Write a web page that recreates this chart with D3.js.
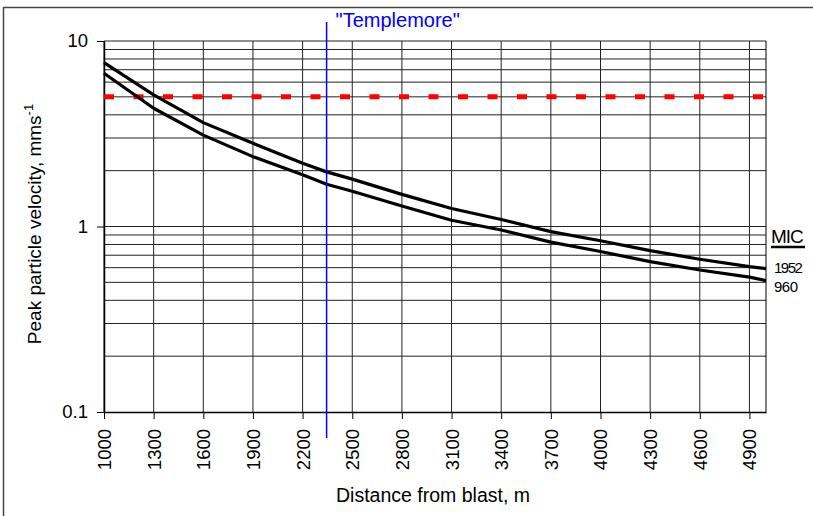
<!DOCTYPE html>
<html>
<head>
<meta charset="utf-8">
<script src="https://cdn.jsdelivr.net/npm/d3@7"></script>
<style>
  body { margin: 0; background: #fff; }
  text { font-family: "Liberation Sans", Arial, sans-serif; }
</style>
</head>
<body>
<svg id="canvas" width="813" height="516"></svg>
<script>
// distances (m) and PPV (mm/s)
let distances = [1000, 1300, 1600, 1900, 2200, 2345, 2500, 2800, 3100, 3400, 3700, 4000, 4300, 4600, 4900, 5000];
let mic1952 = [7.64, 5.12, 3.63, 2.81, 2.19, 1.97, 1.80, 1.49, 1.25, 1.09, 0.938, 0.838, 0.741, 0.666, 0.608, 0.593];
let mic960 = [6.70, 4.34, 3.11, 2.38, 1.90, 1.69, 1.55, 1.29, 1.08, 0.957, 0.824, 0.733, 0.647, 0.583, 0.533, 0.511];
let xTicks = [1000, 1300, 1600, 1900, 2200, 2500, 2800, 3100, 3400, 3700, 4000, 4300, 4600, 4900];
let yTicks = [0.1, 1, 10];
let yGrid = [0.2, 0.3, 0.4, 0.5, 0.6, 0.7, 0.8, 0.9, 1, 2, 3, 4, 5, 6, 7, 8, 9, 10];
let limitValue = 5;
let templemore = 2345;

let canvas = d3.select("#canvas");

let plotLeft = 104, plotRight = 766, plotTop = 41, plotBottom = 412;

let xScale = d3.scaleLinear().domain([1000, 5000]).range([plotLeft, plotRight]);
let yScale = d3.scaleLog().domain([0.1, 10]).range([plotBottom, plotTop]);

// frame (top and left edges only)
canvas.append('line').attr('x1', 3).attr('x2', 813).attr('y1', 7.5).attr('y2', 7.5)
    .attr('stroke', '#444').attr('stroke-width', 1.5);
canvas.append('line').attr('x1', 3.5).attr('x2', 3.5).attr('y1', 7).attr('y2', 516)
    .attr('stroke', '#444').attr('stroke-width', 1.5);

// gridlines
canvas.selectAll('.hgrid')
    .data(yGrid)
    .enter()
    .append('line')
    .attr('class', 'hgrid')
    .attr('x1', plotLeft).attr('x2', plotRight)
    .attr('y1', d => yScale(d)).attr('y2', d => yScale(d))
    .attr('stroke', '#222').attr('stroke-width', 1);

canvas.selectAll('.vgrid')
    .data(xTicks)
    .enter()
    .append('line')
    .attr('class', 'vgrid')
    .attr('x1', d => xScale(d)).attr('x2', d => xScale(d))
    .attr('y1', plotTop).attr('y2', plotBottom)
    .attr('stroke', '#222').attr('stroke-width', 1);

// right edge of plot
canvas.append('line')
    .attr('x1', xScale(5000)).attr('x2', xScale(5000))
    .attr('y1', plotTop).attr('y2', plotBottom)
    .attr('stroke', '#000').attr('stroke-width', 1);

// axes
let xAxis = d3.axisBottom(xScale).tickValues(xTicks).tickSize(7).tickSizeOuter(0).tickFormat(d3.format('d'));
let yAxis = d3.axisLeft(yScale).tickValues(yTicks).tickSize(7).tickSizeOuter(0).tickFormat(d => d);

let gx = canvas.append('g').attr('transform', 'translate(0,' + plotBottom + ')').call(xAxis);
gx.select('.domain').attr('stroke', '#000').attr('stroke-width', 1.5);
gx.selectAll('.tick line').attr('stroke', '#000');
gx.selectAll('.tick text')
    .attr('font-size', 18.5)
    .attr('fill', '#000')
    .attr('text-anchor', 'end')
    .attr('transform', 'rotate(-90)')
    .attr('x', -17)
    .attr('y', 0)
    .attr('dy', '0.35em');

let gy = canvas.append('g').attr('transform', 'translate(' + plotLeft + ',0)').call(yAxis);
gy.select('.domain').attr('stroke', '#000').attr('stroke-width', 1.5);
gy.selectAll('.tick line').attr('stroke', '#000');
gy.selectAll('.tick text')
    .attr('font-size', 18.5)
    .attr('fill', '#000')
    .attr('x', -16);

// red limit line
canvas.append('line')
    .attr('x1', plotLeft).attr('x2', plotRight)
    .attr('y1', yScale(limitValue)).attr('y2', yScale(limitValue))
    .attr('stroke', '#ff0000').attr('stroke-width', 5)
    .attr('stroke-dasharray', '10,19.5');

// curves
let line = d3.line()
    .x((d, i) => xScale(distances[i]))
    .y(d => yScale(d));

[mic1952, mic960].forEach(series => {
    canvas.append('path')
        .attr('d', line(series))
        .attr('fill', 'none')
        .attr('stroke', '#000')
        .attr('stroke-width', 3.2)
        .attr('stroke-linejoin', 'round');
});

// Templemore marker
canvas.append('line')
    .attr('x1', xScale(templemore)).attr('x2', xScale(templemore))
    .attr('y1', 22).attr('y2', 438)
    .attr('stroke', '#0000ff').attr('stroke-width', 1.5);
canvas.append('text')
    .attr('x', xScale(templemore) + 9).attr('y', 27)
    .attr('font-size', 20).attr('fill', '#0000ff')
    .text('"Templemore"');

// MIC labels
canvas.append('text')
    .attr('x', 771).attr('y', 243)
    .attr('font-size', 19).attr('fill', '#000')
    .attr('letter-spacing', -1)
    .text('MIC');
canvas.append('line')
    .attr('x1', 771).attr('x2', 805).attr('y1', 247).attr('y2', 247)
    .attr('stroke', '#000').attr('stroke-width', 2.5);
canvas.append('text')
    .attr('x', 774).attr('y', 273)
    .attr('font-size', 15).attr('fill', '#000')
    .attr('letter-spacing', -1.5)
    .text('1952');
canvas.append('text')
    .attr('x', 774).attr('y', 292)
    .attr('font-size', 15).attr('fill', '#000')
    .attr('letter-spacing', -0.5)
    .text('960');

// axis titles
canvas.append('text')
    .attr('x', 433).attr('y', 502)
    .attr('font-size', 19.5).attr('text-anchor', 'middle').attr('fill', '#000')
    .text('Distance from blast, m');

let yTitle = canvas.append('text')
    .attr('transform', 'translate(41,224) rotate(-90)')
    .attr('font-size', 19).attr('text-anchor', 'middle').attr('fill', '#000');
yTitle.append('tspan').text('Peak particle velocity, mms');
yTitle.append('tspan').attr('font-size', 13).attr('dy', -8).text('-1');
</script>
</body>
</html>
